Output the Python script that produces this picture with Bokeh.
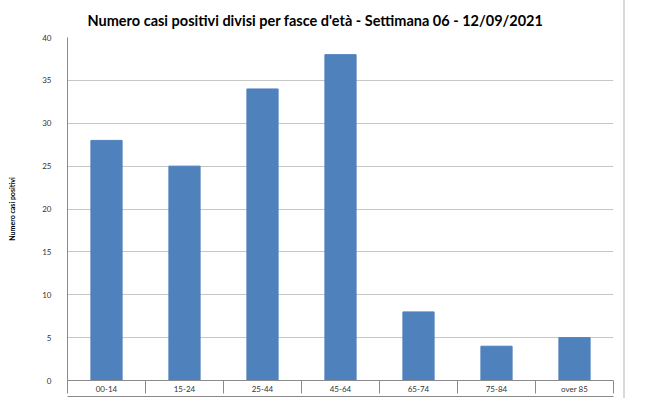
from bokeh.plotting import figure
from bokeh.models import ColumnDataSource, FixedTicker, LinearAxis, Range1d, Title
from bokeh.embed import file_html
from bokeh.resources import INLINE

categories = ["00-14", "15-24", "25-44", "45-64", "65-74", "75-84", "over 85"]
cases = [28, 25, 34, 38, 8, 4, 5]
y_ticks = [0, 5, 10, 15, 20, 25, 30, 35, 40]
title_text = "Numero casi positivi divisi per fasce d'età - Settimana 06 - 12/09/2021"
y_label = "Numero casi positivi"

centers = [i + 0.5 for i in range(len(categories))]
bounds = list(range(len(categories) + 1))

src = ColumnDataSource(dict(x=centers, top=cases, cat=categories))

p = figure(frame_width=546, frame_height=343, output_backend="svg", toolbar_location=None,
           x_range=Range1d(0, len(categories)), y_range=Range1d(0, 40),
           x_axis_location=None, min_border_left=55, min_border_right=10,
           min_border_top=29, min_border_bottom=18)
p.styles = {"border-right": "2px solid #d9d9d9", "margin-left": "5px"}

p.title = Title(text=title_text, align="left", offset=20,
                text_font="Lato", text_font_size="14.5px", text_font_style="bold",
                text_color="#000000", standoff=18)

p.vbar(x="x", top="top", width=0.4, bottom=0, source=src,
       fill_color="#4f81bd", line_color="#4f81bd")

p.outline_line_color = None
p.background_fill_color = "white"
p.xgrid.grid_line_color = None
p.ygrid.grid_line_color = "#c6c6c6"
p.ygrid.ticker = FixedTicker(ticks=y_ticks)

ya = p.yaxis[0]
ya.ticker = FixedTicker(ticks=y_ticks)
ya.axis_line_color = "#8a8a8a"
ya.major_tick_line_color = None
ya.minor_tick_line_color = None
ya.major_label_text_font = "Lato"
ya.major_label_text_font_size = "8px"
ya.major_label_text_color = "#333333"
ya.major_label_standoff = 10
ya.axis_label = y_label
ya.axis_label_text_font = "Lato"
ya.axis_label_text_font_size = "7px"
ya.axis_label_text_font_style = "bold"
ya.axis_label_text_color = "#000000"
ya.axis_label_standoff = 23

xa = LinearAxis(ticker=FixedTicker(ticks=centers, minor_ticks=bounds),
                major_label_overrides={c: lab for c, lab in zip(centers, categories)})
xa.axis_line_color = "#8a8a8a"
xa.major_tick_line_color = None
xa.major_tick_out = 0
xa.major_tick_in = 0
xa.minor_tick_line_color = "#8a8a8a"
xa.minor_tick_out = 13
xa.minor_tick_in = 0
xa.major_label_text_font = "Lato"
xa.major_label_text_font_size = "8px"
xa.major_label_text_color = "#333333"
xa.major_label_standoff = -10
p.add_layout(xa, "below")

xb = LinearAxis(ticker=FixedTicker(ticks=[]))
xb.axis_line_color = "#8a8a8a"
xb.major_tick_line_color = None
xb.minor_tick_line_color = None
xb.major_label_text_font_size = "0px"
p.add_layout(xb, "below")

open("out.html", "w").write(file_html(p, INLINE))
